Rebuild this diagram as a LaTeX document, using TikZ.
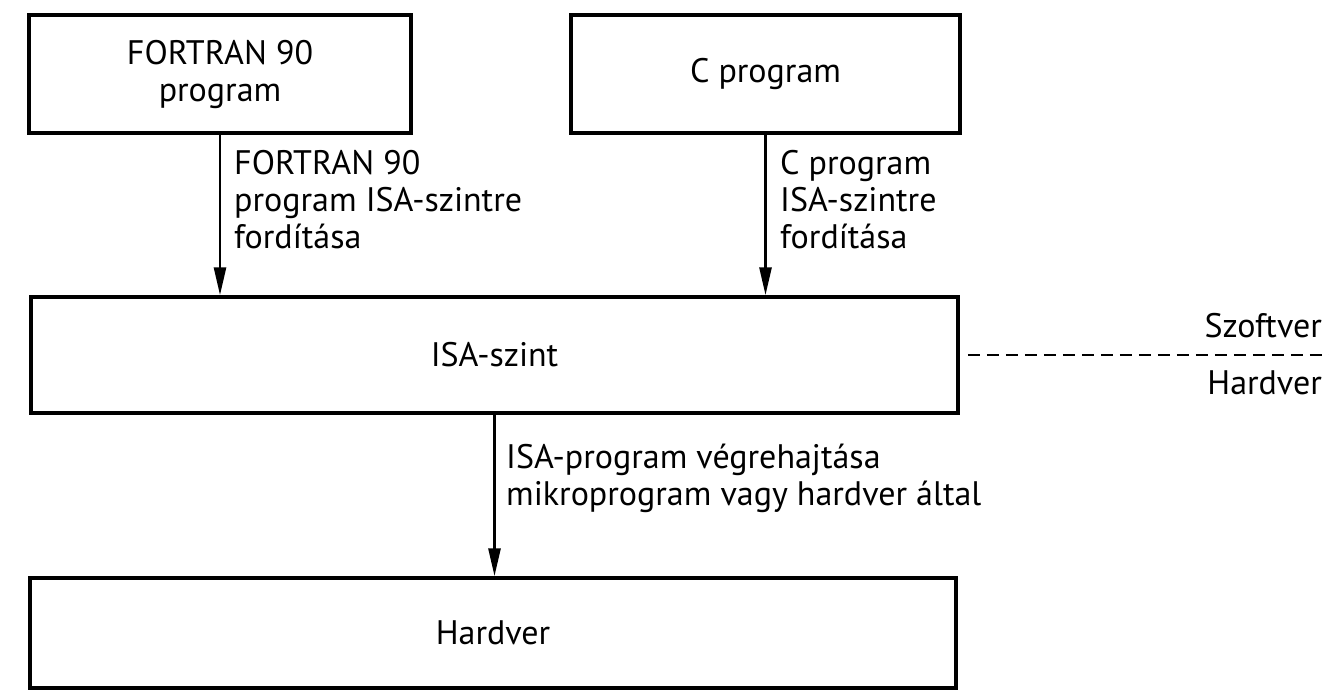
\documentclass[tikz,border=0pt]{standalone}
\usepackage{fontspec}
\setmainfont{PT Sans}
\usetikzlibrary{arrows.meta}
\begin{document}
\begin{tikzpicture}[x=1pt,y=-1pt,
  every node/.style={font=\fontsize{34}{37}\selectfont},
  box/.style={draw, line width=3.5pt, inner sep=0pt, align=center},
  lbl/.style={align=left, inner sep=0pt, anchor=north west},
  side/.style={inner sep=0pt, anchor=east},
  arr/.style={-{Triangle[length=28pt,width=12pt]}, line width=2.8pt},
  sep/.style={line width=2.8pt, dash pattern=on 12pt off 7pt}]
\useasboundingbox (0,0) rectangle (1329,691);
\node[box, minimum width=382pt, minimum height=118pt] (fortran) at (220,74) {FORTRAN 90\\program};
\node[box, minimum width=389pt, minimum height=118pt] (cprog) at (765.5,74) {C program};
\node[box, minimum width=927pt, minimum height=116pt] (isa) at (494.5,355) {ISA-szint};
\node[box, minimum width=926pt, minimum height=110pt] (hw) at (493,633) {Hardver};
\draw[arr] (fortran.south) -- (fortran.south |- isa.north);
\draw[arr] (cprog.south) -- (cprog.south |- isa.north);
\draw[arr] (isa.south) -- (isa.south |- hw.north);
\node[lbl] (l1) at (234,150) {FORTRAN 90\\program ISA-szintre\\fordítása};
\node[lbl] (l2) at (780,150) {C program\\ISA-szintre\\fordítása};
\node[lbl] (l3) at (506,444) {ISA-program végrehajtása\\mikroprogram vagy hardver által};
\node[side] (sw) at (1322,326) {Szoftver};
\node[side] (hwl) at (1322,383) {Hardver};
\coordinate (dend) at (1329,355);
\draw[sep] ([xshift=8pt]isa.east) -- (dend);
\end{tikzpicture}
\end{document}
